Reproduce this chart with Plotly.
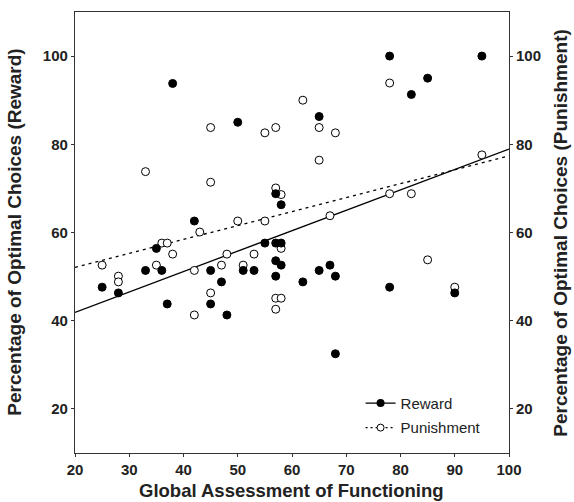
import plotly.graph_objects as go

# ---- data ----
reward_gaf = [25, 28, 33, 35, 36, 37, 38, 42, 45, 45, 47, 48, 50, 51, 53, 55, 57, 57, 57, 57,
              58, 58, 58, 62, 65, 65, 67, 68, 68, 78, 78, 82, 85, 90, 95]
reward_pct = [47.6, 46.3, 51.4, 56.4, 51.4, 43.8, 93.8, 62.6, 51.4, 43.8, 48.8, 41.3, 85.0, 51.4,
              51.4, 57.6, 68.8, 57.6, 53.6, 50.1, 66.3, 57.6, 52.6, 48.8, 86.3, 51.4, 52.6, 50.1,
              32.5, 100.0, 47.6, 91.3, 95.0, 46.3, 100.0]

punish_gaf = [25, 28, 28, 33, 35, 36, 37, 38, 42, 42, 43, 45, 45, 45, 47, 48, 50, 51, 53, 55, 55,
              57, 57, 57, 57, 58, 58, 58, 62, 65, 65, 67, 68, 78, 78, 82, 85, 90, 95]
punish_pct = [52.6, 50.1, 48.8, 73.8, 52.6, 57.6, 57.6, 55.1, 51.4, 41.3, 60.1, 83.8, 71.4, 46.3,
              52.6, 55.1, 62.6, 52.6, 55.1, 82.6, 62.6, 83.8, 70.1, 45.1, 42.6, 68.6, 56.4, 45.1,
              90.0, 83.8, 76.4, 63.8, 82.6, 93.9, 68.8, 68.8, 53.8, 47.6, 77.6]

# regression lines (intercept, slope)
reward_fit = (32.65, 0.4625)
punish_fit = (45.78, 0.316)

x_range = [20, 100]
y_range = [10, 110]
x_ticks = [20, 30, 40, 50, 60, 70, 80, 90, 100]
y_ticks = [20, 40, 60, 80, 100]

FONT = "Liberation Sans, Arial, sans-serif"
AX = "#333333"
TXT = "#222222"

fit_x = x_range
rw_y = [reward_fit[0] + reward_fit[1] * v for v in fit_x]
pn_y = [punish_fit[0] + punish_fit[1] * v for v in fit_x]

fig = go.Figure()

fig.add_trace(go.Scatter(x=fit_x, y=pn_y, mode="lines", showlegend=False,
                         line=dict(color="black", width=1.3, dash="3px,4px")))
fig.add_trace(go.Scatter(x=fit_x, y=rw_y, mode="lines", showlegend=False,
                         line=dict(color="black", width=1.3)))
fig.add_trace(go.Scatter(x=punish_gaf, y=punish_pct, mode="markers", showlegend=False,
                         marker=dict(symbol="circle", size=8, color="white",
                                     line=dict(color="black", width=1))))
fig.add_trace(go.Scatter(x=reward_gaf, y=reward_pct, mode="markers", showlegend=False,
                         marker=dict(symbol="circle", size=8, color="black",
                                     line=dict(color="black", width=1))))

# legend entries
fig.add_trace(go.Scatter(x=[None], y=[None], mode="lines+markers", name="Reward",
                         legendgroup="r",
                         line=dict(color="black", width=1.3),
                         marker=dict(size=8, color="black")))
fig.add_trace(go.Scatter(x=[None], y=[None], mode="lines+markers", name="Punishment",
                         legendgroup="p",
                         line=dict(color="black", width=1.3, dash="2px,3px"),
                         marker=dict(size=7, color="white", line=dict(color="black", width=1))))

# right axis (same scale)
fig.add_trace(go.Scatter(x=[None], y=[None], yaxis="y2", showlegend=False))

tickfont = dict(family=FONT, size=15, color=TXT, weight="bold")
titlefont = dict(family=FONT, size=19, color=TXT, weight="bold")

fig.update_layout(
    width=574, height=502,
    margin=dict(l=75, r=65, t=12, b=49),
    paper_bgcolor="white", plot_bgcolor="white",
    font=dict(family=FONT, color=TXT),
    xaxis=dict(range=x_range, tickvals=x_ticks, ticks="outside", ticklen=3, tickwidth=1,
               tickcolor=AX, showline=True, linecolor=AX, linewidth=1.2, mirror=True,
               showgrid=False, zeroline=False, tickfont=tickfont),
    yaxis=dict(range=y_range, tickvals=y_ticks, ticks="outside", ticklen=3, tickwidth=1,
               tickcolor=AX, showline=True, linecolor=AX, linewidth=1.2, mirror=True,
               showgrid=False, zeroline=False, tickfont=tickfont),
    yaxis2=dict(range=y_range, tickvals=y_ticks, ticks="outside", ticklen=3, tickwidth=1,
                tickcolor=AX, overlaying="y", side="right", showline=False,
                showgrid=False, zeroline=False, tickfont=tickfont),
    legend=dict(x=0.658, y=0.15, xanchor="left", yanchor="top",
                bgcolor="rgba(0,0,0,0)", tracegroupgap=2,
                font=dict(family=FONT, size=15, color=TXT)),
    annotations=[
        dict(text="Global Assessment of Functioning", xref="paper", yref="paper",
             x=0.498, y=-0.084, showarrow=False, xanchor="center", yanchor="middle",
             font=dict(family=FONT, size=18.5, color=TXT, weight="bold")),
        dict(text="Percentage of Optimal Choices (Reward)", xref="paper", yref="paper",
             x=-0.14, y=0.5, showarrow=False, textangle=-90, xanchor="center",
             yanchor="middle", font=titlefont),
        dict(text="Percentage of Optimal Choices (Punishment)", xref="paper", yref="paper",
             x=1.118, y=0.5, showarrow=False, textangle=-90, xanchor="center",
             yanchor="middle", font=titlefont),
    ],
)

# remove the page's default body margin so the figure fills the window exactly
fig.write_html("out.html", config={"displayModeBar": False},
               post_script="document.body.style.margin='0';")
